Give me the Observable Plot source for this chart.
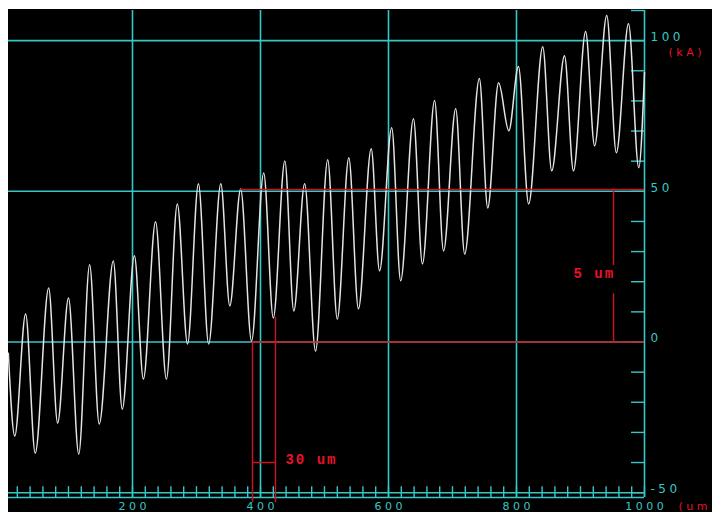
<!DOCTYPE html>
<html><head><meta charset="utf-8">
<script src="https://cdn.jsdelivr.net/npm/d3@7"></script>
<script src="https://cdn.jsdelivr.net/npm/@observablehq/plot@0.6"></script>
<style>
html,body{margin:0;padding:0;background:#fff;}
#wrap{position:absolute;left:8px;top:9px;width:704px;height:503px;overflow:hidden;background:#000;}
#wrap svg{position:absolute;left:-8px;top:-9px;max-width:none !important;width:712px;height:512px;}
g[font-family="DejaVu Sans"]{letter-spacing:3.5px;}
g[font-family="Liberation Mono"]{letter-spacing:2px;}
</style></head><body><div id="wrap"></div>
<script>
// position (um) of the sampled extremes of the trace
const xPos = [6,16,33,48,69,83,100,116,133,148,170,184,203,217,236,253,270,286,303,319,338,352,369,386,405,420,438,452,469,486,505,520,538,553,573,586,605,619,639,653,672,686,705,719,742,755,772,788,803,819,841,855,875,889,908,922,941,956,975,991,1000];
// current (kA)
const current = [-3.7,-31.2,9.3,-36.9,17.9,-26.9,14.6,-37.2,25.6,-27.2,26.9,-22.3,28.6,-12.3,39.9,-12.3,45.8,-0.7,52.5,-0.7,52.5,12.0,50.8,0.3,56.1,8.0,60.1,10.3,52.5,-3.0,60.5,7.6,61.1,11.0,64.1,23.6,71.1,20.3,74.1,25.9,80.1,30.2,77.4,29.2,87.4,44.5,86.0,70.1,91.4,45.8,98.0,56.8,95.0,56.8,103.0,65.1,108.3,62.8,105.6,57.8,89.4];

const xMajor = [200, 400, 600, 800];
const yMajor = [100, 50, 0, -50];
const xLabels = [0, 200, 400, 600, 800, 1000];
const yLabels = [100, 50, 0, -50];
const xMinorTicks = d3.range(0, 1001, 20);
const yMinorTicks = d3.range(-50, 111, 10);
const xUnit = "(um";
const yUnit = "(kA)";

// red measurement annotations
const annH = [{y: 50.6, x1: 369, x2: 1000}, {y: 0, x1: 387.5, x2: 1000}, {y: -40, x1: 387.5, x2: 423.4}];
const annV = [{x: 387.5, y1: 0, y2: -53.3}, {x: 423.4, y1: 8.2, y2: -53.3}, {x: 951.6, y1: 50.6, y2: 25.3}, {x: 951.6, y1: 16, y2: 0}];
const annWidth = [{x: 439, y: -39.0, text: "30 um"}];
const annHeight = [{x: 954, y: 22.8, text: "5 um"}];

const data = xPos.map((x, i) => ({x, y: current[i]}));
const xMax = 1000, yTop = 110, yFloor = -51.6;
const cyan = "#36c8c8", red = "#c8141e", redText = "#e8122a";

const chart = Plot.plot({
  width: 712, height: 512,
  marginLeft: 4, marginRight: 68, marginTop: 10, marginBottom: 15,
  x: {domain: [0, xMax], axis: null},
  y: {domain: [yFloor, yTop], axis: null},
  style: {background: "#000", overflow: "visible"},
  marks: [
    Plot.ruleY(yMajor, {x1: 0, x2: xMax, stroke: cyan, strokeWidth: 1.6}),
    Plot.ruleX(xMajor, {y1: yFloor, y2: yTop, stroke: cyan, strokeWidth: 1.6}),
    Plot.ruleX([xMax], {y1: yFloor, y2: yTop, stroke: cyan, strokeWidth: 1.6}),
    Plot.ruleY([yFloor], {x1: 0, x2: xMax, stroke: cyan, strokeWidth: 1.6}),
    Plot.ruleX(xMinorTicks, {y1: yFloor, y2: -48, stroke: cyan, strokeWidth: 1.4}),
    Plot.ruleY(yMinorTicks, {x1: 979.7, x2: xMax, stroke: cyan, strokeWidth: 1.4}),
    Plot.line(data, {x: "x", y: "y", curve: "monotone-x", stroke: "#e4e4e4", strokeWidth: 1.5}),
    Plot.ruleY(annH, {y: "y", x1: "x1", x2: "x2", stroke: red, strokeWidth: 1.5}),
    Plot.ruleX(annV, {x: "x", y1: "y1", y2: "y2", stroke: red, strokeWidth: 1.5}),
    Plot.text(annWidth, {x: "x", y: "y", text: "text", textAnchor: "start", fill: redText, fontFamily: "Liberation Mono", fontWeight: "bold", fontSize: 14}),
    Plot.text(annHeight, {x: "x", y: "y", text: "text", textAnchor: "end", fill: redText, fontFamily: "Liberation Mono", fontWeight: "bold", fontSize: 14}),
    Plot.text(yLabels, {x: xMax, y: (d) => d, text: (d) => String(d), textAnchor: "start", dx: 6, dy: -3.5, fill: cyan, fontFamily: "DejaVu Sans", fontSize: 12}),
    Plot.text(xLabels, {x: (d) => d, y: yFloor, text: (d) => String(d), textAnchor: "middle", dx: 1.75, dy: 9, fill: cyan, fontFamily: "DejaVu Sans", fontSize: 11}),
    Plot.text([yUnit], {x: 1037.5, y: 96.1, text: (d) => d, textAnchor: "start", fill: redText, fontFamily: "DejaVu Sans", fontSize: 11}),
    Plot.text([xUnit], {x: 1053, y: yFloor, text: (d) => d, textAnchor: "start", dy: 9, fill: redText, fontFamily: "DejaVu Sans", fontSize: 11})
  ]
});
document.getElementById("wrap").appendChild(chart);
</script>
</body></html>
